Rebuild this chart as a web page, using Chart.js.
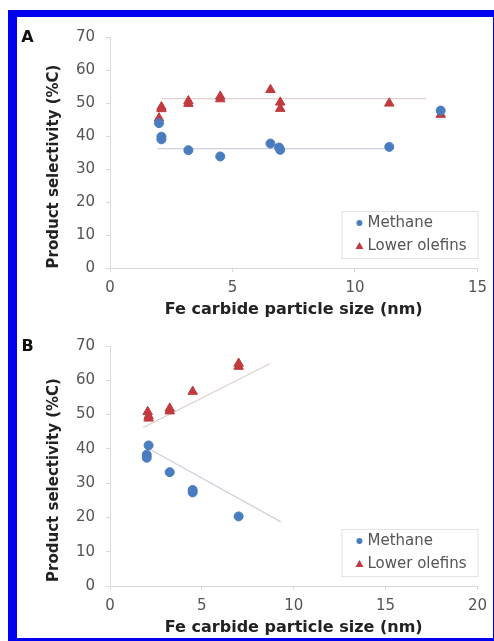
<!DOCTYPE html>
<html>
<head>
<meta charset="utf-8">
<script src="https://cdn.jsdelivr.net/npm/chart.js@4.4.0/dist/chart.umd.min.js"></script>
<style>
  body { margin: 0; background: #fff; }
  #frame {
    position: absolute; left: 8px; top: 10px;
    width: 476px; height: 621px;
    border-style: solid; border-color: #0000f0;
    border-width: 7px 1px 3px 9px;
  }
  canvas { position: absolute; }
  #chartA { left: 17px; top: 17px; }
  #chartB { left: 17px; top: 320px; }
</style>
</head>
<body>
<div id="frame"></div>
<canvas id="chartA" width="477" height="303"></canvas>
<canvas id="chartB" width="477" height="318"></canvas>
<script>
// Panel A: selectivity vs particle size
const sizeA_methane = [2.0, 2.1, 2.1, 3.2, 4.5, 6.55, 6.9, 6.95, 11.4, 13.5];
const methaneA = [43.9, 39.8, 39.0, 35.7, 33.8, 37.7, 36.5, 35.8, 36.7, 47.7];
const sizeA_olefins = [2.0, 2.1, 2.1, 3.2, 3.2, 4.5, 4.5, 6.55, 6.95, 6.95, 11.4, 13.5];
const olefinsA = [45.4, 48.8, 48.2, 50.6, 49.8, 52.0, 51.2, 54.0, 50.2, 48.3, 49.9, 46.5];
const trendA_methane_x = [1.95, 11.6];
const trendA_methane = [36.2, 36.2];
const trendA_olefins_x = [2.1, 12.9];
const trendA_olefins = [51.3, 51.3];

// Panel B
const sizeB_methane = [2.1, 2.0, 2.0, 3.25, 4.5, 4.5, 7.0];
const methaneB = [41.0, 38.3, 37.4, 33.2, 28.0, 27.3, 20.3];
const sizeB_olefins = [2.05, 2.1, 2.1, 3.25, 3.25, 4.5, 7.0, 7.0];
const olefinsB = [50.8, 49.6, 48.9, 51.8, 51.0, 56.7, 64.9, 64.0];
const trendB_methane_x = [2.0, 9.3];
const trendB_methane = [40.4, 18.7];
const trendB_olefins_x = [1.8, 8.7];
const trendB_olefins = [46.2, 64.8];

// axes
const yMin = 0, yMax = 70, yStep = 10;
const xMaxA = 15, xMaxB = 20, xStep = 5;
const seriesNames = ['Methane', 'Lower olefins'];
const yTitle = 'Product selectivity (%C)';
const xTitle = 'Fe carbide particle size (nm)';

const blue = '#4a7cc0';
const red = '#c03a3f';
const font = '"DejaVu Sans", sans-serif';

function pts(xs, ys) {
  return xs.map((x, i) => ({ x: x, y: ys[i] }));
}

// panel letter, rotated y title and the boxed legend
const panelDecor = {
  id: 'panelDecor',
  afterDraw(chart, args, opts) {
    const ctx = chart.ctx;
    const area = chart.chartArea;
    ctx.save();

    ctx.fillStyle = '#111';
    ctx.font = 'bold 16px ' + font;
    ctx.textAlign = 'center';
    ctx.textBaseline = 'middle';
    ctx.fillText(opts.letter, 10.5, area.top + 1);

    ctx.save();
    ctx.translate(37, (area.top + area.bottom) / 2 + 14);
    ctx.rotate(-Math.PI / 2);
    ctx.fillStyle = '#222';
    ctx.font = 'bold 15px ' + font;
    ctx.fillText(yTitle, 0, 0);
    ctx.restore();

    // legend box
    const bw = 136, bh = 47;
    const bx = area.right - bw, by = area.bottom - 10 - bh;
    ctx.strokeStyle = '#e2e2e2';
    ctx.lineWidth = 1;
    ctx.strokeRect(bx + 0.5, by + 0.5, bw, bh);
    ctx.font = '15px ' + font;
    ctx.fillStyle = '#555';
    ctx.textAlign = 'left';
    const mx = bx + 18, tx = bx + 26;
    ctx.fillText(seriesNames[0], tx, by + 12);
    ctx.fillText(seriesNames[1], tx, by + 35);
    ctx.fillStyle = blue;
    ctx.beginPath();
    ctx.arc(mx, by + 12, 3, 0, Math.PI * 2);
    ctx.fill();
    ctx.fillStyle = red;
    ctx.beginPath();
    ctx.moveTo(mx, by + 31);
    ctx.lineTo(mx + 4, by + 38);
    ctx.lineTo(mx - 4, by + 38);
    ctx.closePath();
    ctx.fill();
    ctx.restore();
  }
};

function makeChart(id, letter, xMax, topPad, data) {
  const ctx = document.getElementById(id).getContext('2d');
  return new Chart(ctx, {
    type: 'scatter',
    data: {
      datasets: [
        {
          label: seriesNames[0],
          data: pts(data.mx, data.my),
          pointStyle: 'circle',
          pointRadius: 4.5,
          backgroundColor: blue,
          borderColor: blue,
          borderWidth: 1
        },
        {
          label: seriesNames[1],
          data: pts(data.ox, data.oy),
          pointStyle: 'triangle',
          pointRadius: 5.5,
          backgroundColor: red,
          borderColor: red,
          borderWidth: 1
        },
        {
          label: 'trend methane',
          data: pts(data.tmx, data.tmy),
          showLine: true,
          pointRadius: 0,
          borderColor: 'rgba(185,190,205,0.7)',
          borderWidth: 1.2
        },
        {
          label: 'trend olefins',
          data: pts(data.tox, data.toy),
          showLine: true,
          pointRadius: 0,
          borderColor: 'rgba(215,190,190,0.7)',
          borderWidth: 1.2
        }
      ]
    },
    options: {
      responsive: false,
      animation: false,
      layout: { padding: { top: topPad, right: 11, left: 0, bottom: 0 } },
      plugins: {
        legend: { display: false },
        tooltip: { enabled: false },
        panelDecor: { letter: letter }
      },
      scales: {
        x: {
          type: 'linear',
          min: 0,
          max: xMax,
          ticks: { stepSize: xStep, color: '#555', padding: 7, font: { family: font, size: 15 } },
          grid: { drawOnChartArea: false, drawTicks: true, tickLength: 4, color: '#d9d9d9' },
          border: { color: '#d9d9d9' },
          title: {
            display: true,
            text: xTitle,
            color: '#222',
            padding: { top: 0, bottom: 1 },
            font: { family: font, size: 16, weight: 'bold' }
          },
          afterFit(scale) { scale.height = 52; }
        },
        y: {
          min: yMin,
          max: yMax,
          ticks: { stepSize: yStep, color: '#555', padding: 11, font: { family: font, size: 15 } },
          grid: { drawOnChartArea: false, drawTicks: true, tickLength: 4, color: '#d9d9d9' },
          border: { color: '#d9d9d9' },
          afterFit(scale) { scale.width = 93; }
        }
      }
    },
    plugins: [panelDecor]
  });
}

makeChart('chartA', 'A', xMaxA, 12, {
  mx: sizeA_methane, my: methaneA,
  ox: sizeA_olefins, oy: olefinsA,
  tmx: trendA_methane_x, tmy: trendA_methane,
  tox: trendA_olefins_x, toy: trendA_olefins
});

makeChart('chartB', 'B', xMaxB, 26, {
  mx: sizeB_methane, my: methaneB,
  ox: sizeB_olefins, oy: olefinsB,
  tmx: trendB_methane_x, tmy: trendB_methane,
  tox: trendB_olefins_x, toy: trendB_olefins
});
</script>
</body>
</html>
